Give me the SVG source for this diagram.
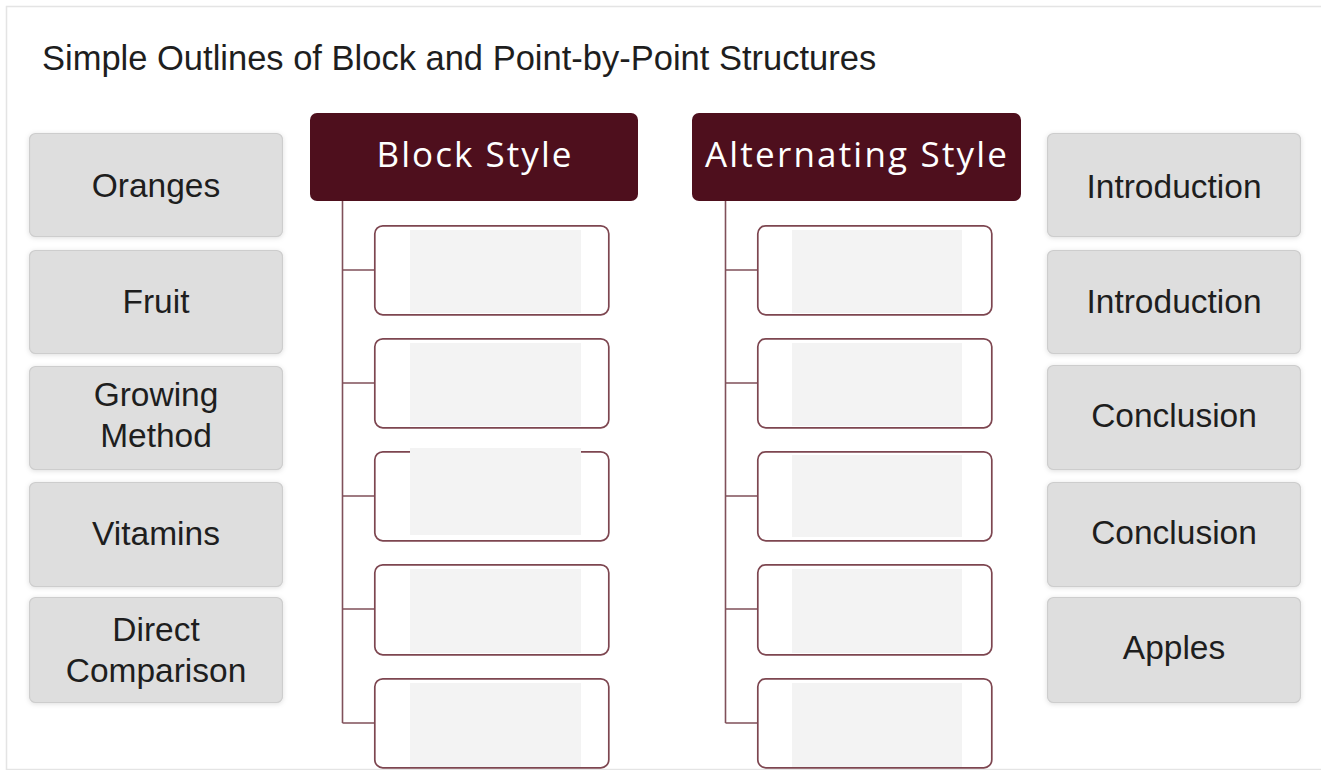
<svg xmlns="http://www.w3.org/2000/svg" width="1321" height="770" viewBox="0 0 1321 770">
<style>
.frame{fill:#ffffff;stroke:#e4e4e4;stroke-width:1.5}
.title{font-family:"Liberation Sans",Arial,sans-serif;font-size:34.5px;fill:#1e1e1e}
.card{fill:#dedede;stroke:#cdcdcd;stroke-width:1.2}
.lbl{font-family:"Liberation Sans",Arial,sans-serif;font-size:33.5px;fill:#1e1e1e;text-anchor:middle}
.hdr{fill:#4e0f1d}
.htxt{font-family:"Open Sans","Noto Sans",sans-serif;font-size:35px;fill:#ffffff;text-anchor:middle}
.child{fill:#ffffff;stroke:#7d4650;stroke-width:1.7}
.inner{fill:#f3f3f3}
.conn{fill:none;stroke:#80505a;stroke-width:1.6}
</style>
<defs>
<filter id="sh" x="-10%" y="-10%" width="120%" height="130%">
<feDropShadow dx="0" dy="1" stdDeviation="2.5" flood-color="#000" flood-opacity="0.13"/>
</filter>
</defs>
<rect class="frame" x="6.5" y="6.5" width="1330" height="763"/>
<text class="title" x="42" y="70">Simple Outlines of Block and Point-by-Point Structures</text>

<g id="connectors">
<path class="conn" d="M342.5 201 V723 M342.5 270 H375 M342.5 383 H375 M342.5 496 H375 M342.5 609 H375 M342.5 723 H375"/>
<path class="conn" d="M725.5 201 V723 M725.5 270 H758 M725.5 383 H758 M725.5 496 H758 M725.5 609 H758 M725.5 723 H758"/>
</g>

<g id="left-oranges"><rect class="card" filter="url(#sh)" x="29.5" y="133.5" width="253" height="103" rx="6"/><text class="lbl" x="156" y="197">Oranges</text></g>
<g id="left-fruit"><rect class="card" filter="url(#sh)" x="29.5" y="250.5" width="253" height="103" rx="6"/><text class="lbl" x="156" y="313">Fruit</text></g>
<g id="left-growing"><rect class="card" filter="url(#sh)" x="29.5" y="366.5" width="253" height="103" rx="6"/><text class="lbl" x="156" y="406">Growing</text><text class="lbl" x="156" y="447">Method</text></g>
<g id="left-vitamins"><rect class="card" filter="url(#sh)" x="29.5" y="482.5" width="253" height="104" rx="6"/><text class="lbl" x="156" y="545">Vitamins</text></g>
<g id="left-direct"><rect class="card" filter="url(#sh)" x="29.5" y="597.5" width="253" height="105" rx="6"/><text class="lbl" x="156" y="641">Direct</text><text class="lbl" x="156" y="682">Comparison</text></g>

<g id="right-intro1"><rect class="card" filter="url(#sh)" x="1047.5" y="133.5" width="253" height="103" rx="6"/><text class="lbl" x="1174" y="198">Introduction</text></g>
<g id="right-intro2"><rect class="card" filter="url(#sh)" x="1047.5" y="250.5" width="253" height="103" rx="6"/><text class="lbl" x="1174" y="313">Introduction</text></g>
<g id="right-concl1"><rect class="card" filter="url(#sh)" x="1047.5" y="365.5" width="253" height="104" rx="6"/><text class="lbl" x="1174" y="427">Conclusion</text></g>
<g id="right-concl2"><rect class="card" filter="url(#sh)" x="1047.5" y="482.5" width="253" height="104" rx="6"/><text class="lbl" x="1174" y="544">Conclusion</text></g>
<g id="right-apples"><rect class="card" filter="url(#sh)" x="1047.5" y="597.5" width="253" height="105" rx="6"/><text class="lbl" x="1174" y="659">Apples</text></g>

<g id="block-header"><rect class="hdr" x="310" y="113" width="328" height="88" rx="7"/><text class="htxt" x="474" y="167" textLength="195" lengthAdjust="spacing">Block Style</text></g>
<g id="alt-header"><rect class="hdr" x="692" y="113" width="329" height="88" rx="7"/><text class="htxt" x="856" y="167" textLength="302" lengthAdjust="spacing">Alternating Style</text></g>

<g id="block-slot1"><rect class="child" x="374.8" y="225.8" width="234" height="89" rx="8"/><rect class="inner" x="410" y="230" width="171" height="83"/></g>
<g id="block-slot2"><rect class="child" x="374.8" y="338.8" width="234" height="89" rx="8"/><rect class="inner" x="410" y="343" width="171" height="83"/></g>
<g id="block-slot3"><rect class="child" x="374.8" y="451.8" width="234" height="89" rx="8"/><rect class="inner" x="410" y="448" width="171" height="87"/></g>
<g id="block-slot4"><rect class="child" x="374.8" y="564.8" width="234" height="90" rx="8"/><rect class="inner" x="410" y="569" width="171" height="84"/></g>
<g id="block-slot5"><rect class="child" x="374.8" y="678.8" width="234" height="89" rx="8"/><rect class="inner" x="410" y="683" width="171" height="84"/></g>

<g id="alt-slot1"><rect class="child" x="757.8" y="225.8" width="234" height="89" rx="8"/><rect class="inner" x="792" y="230" width="170" height="83"/></g>
<g id="alt-slot2"><rect class="child" x="757.8" y="338.8" width="234" height="89" rx="8"/><rect class="inner" x="792" y="343" width="170" height="83"/></g>
<g id="alt-slot3"><rect class="child" x="757.8" y="451.8" width="234" height="89" rx="8"/><rect class="inner" x="792" y="455" width="170" height="82"/></g>
<g id="alt-slot4"><rect class="child" x="757.8" y="564.8" width="234" height="90" rx="8"/><rect class="inner" x="792" y="569" width="170" height="84"/></g>
<g id="alt-slot5"><rect class="child" x="757.8" y="678.8" width="234" height="89" rx="8"/><rect class="inner" x="792" y="683" width="170" height="84"/></g>
</svg>
